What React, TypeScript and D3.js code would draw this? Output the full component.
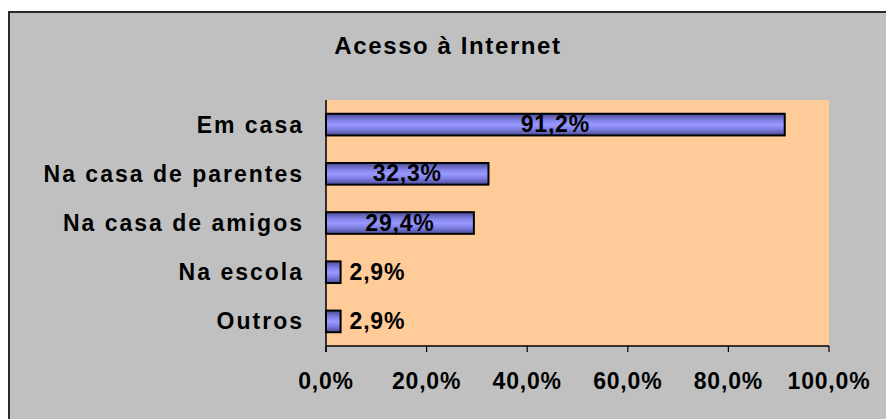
import React from "react";
import * as d3 from "d3";

const categories = ["Em casa", "Na casa de parentes", "Na casa de amigos", "Na escola", "Outros"];
const values = [91.2, 32.3, 29.4, 2.9, 2.9];
const valueLabels = ["91,2%", "32,3%", "29,4%", "2,9%", "2,9%"];
const ticks = [0, 20, 40, 60, 80, 100];
const tickLabels = ["0,0%", "20,0%", "40,0%", "60,0%", "80,0%", "100,0%"];
const title = "Acesso à Internet";

const W = 886;
const H = 419;
const plot = { left: 326, right: 829, top: 100, bottom: 346 };
const FONT = "'Liberation Sans', Arial, sans-serif";

export default function App() {
  const x = d3.scaleLinear().domain([0, 100]).range([plot.left, plot.right]);
  const y = d3.scaleBand<string>().domain(categories).range([plot.top, plot.bottom]).padding(0);
  const step = y.step();
  const barH = step * 0.44;

  return (
    <svg width={W} height={H} style={{ position: "absolute", left: 0, top: 0 }} fontFamily={FONT}>
      <defs>
        <linearGradient id="barGrad" x1="0" y1="0" x2="0" y2="1">
          <stop offset="0" stopColor="#4b4b96" />
          <stop offset="0.3" stopColor="#8080e6" />
          <stop offset="0.5" stopColor="#9999ff" />
          <stop offset="0.7" stopColor="#8080e6" />
          <stop offset="1" stopColor="#4b4b96" />
        </linearGradient>
      </defs>
      <rect x={0} y={0} width={W} height={H} fill="#ffffff" />
      <rect x={9} y={12} width={W + 20} height={H + 20} fill="#c0c0c0" stroke="#2a2a2a" strokeWidth={2} />
      <text x={448} y={54} textAnchor="middle" fontSize={24} fontWeight="bold" letterSpacing={1.6} fill="#000">
        {title}
      </text>
      <rect x={plot.left} y={plot.top} width={plot.right - plot.left} height={plot.bottom - plot.top} fill="#ffcc99" />
      {/* axes */}
      <line x1={plot.left} x2={plot.left} y1={plot.top} y2={plot.bottom + 6} stroke="#000" strokeWidth={1.5} />
      <line x1={plot.left} x2={plot.right} y1={plot.bottom} y2={plot.bottom} stroke="#000" strokeWidth={1.5} />
      {ticks.map((t, i) => (
        <g key={t}>
          <line x1={x(t)} x2={x(t)} y1={plot.bottom} y2={plot.bottom + 6} stroke="#000" strokeWidth={1.2} />
          <text x={x(t)} y={389} textAnchor="middle" fontSize={23} fontWeight="bold" letterSpacing={0.8} fill="#000">
            {tickLabels[i]}
          </text>
        </g>
      ))}
      {categories.map((c, i) => {
        const cy = (y(c) as number) + step / 2;
        const w = x(values[i]) - x(0);
        const inside = values[i] > 10;
        return (
          <g key={c}>
            <text x={304} y={cy + 8} textAnchor="end" fontSize={23} fontWeight="bold" letterSpacing={2} fill="#000">
              {c}
            </text>
            <rect x={x(0)} y={cy - barH / 2} width={w} height={barH} fill="url(#barGrad)" stroke="#000" strokeWidth={2} />
            <text
              x={inside ? x(0) + w / 2 : x(values[i]) + 9}
              y={cy + 7.5}
              textAnchor={inside ? "middle" : "start"}
              fontSize={23}
              fontWeight="bold"
              letterSpacing={0.8}
              fill="#000"
            >
              {valueLabels[i]}
            </text>
          </g>
        );
      })}
    </svg>
  );
}
